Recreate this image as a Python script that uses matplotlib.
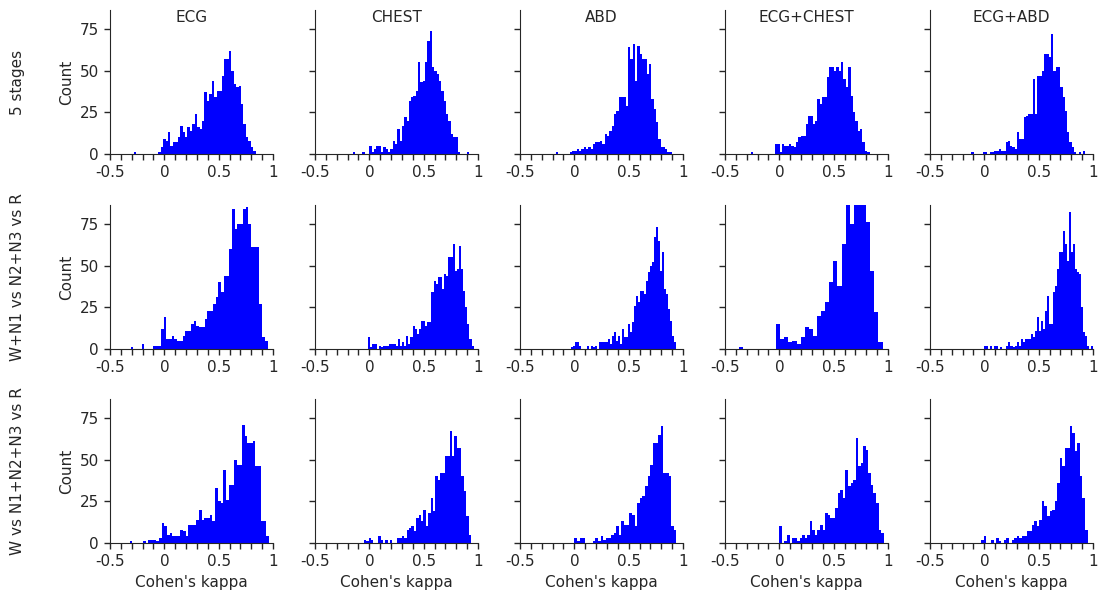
"""Histograms of per-recording Cohen's kappa for each signal set and staging task."""

import numpy as np
import matplotlib
matplotlib.use('Agg')
import matplotlib.pyplot as plt
from matplotlib.ticker import MultipleLocator

SIGNALS = ['ECG', 'CHEST', 'ABD', 'ECG+CHEST', 'ECG+ABD']
TASKS = ['5 stages', 'W+N1 vs N2+N3 vs R', 'W vs N1+N2+N3 vs R']

# bin counts, with the (min, max) range of each
STAGE5_ECG = [1, 0, 0, 0, 0, 0, 0, 0, 0, 0, 1, 4, 9, 8, 13, 5, 7, 7, 10, 17,
              13, 10, 16, 14, 18, 24, 16, 15, 20, 37, 32, 36, 44, 34, 38, 38,
              47, 57, 57, 62, 50, 42, 40, 41, 30, 18, 10, 8, 4, 2]
STAGE5_CHEST = [1, 0, 0, 0, 1, 0, 0, 5, 1, 3, 5, 5, 1, 4, 3, 1, 3, 8, 6, 15,
                8, 17, 22, 20, 32, 34, 35, 38, 55, 43, 44, 55, 68, 74, 52, 50,
                48, 44, 38, 32, 24, 20, 12, 10, 10, 1, 0, 0, 0, 1]
STAGE5_ABD = [1, 0, 0, 0, 0, 0, 1, 2, 2, 3, 2, 3, 4, 3, 4, 3, 6, 7, 7, 8,
              6, 12, 11, 14, 17, 24, 26, 34, 34, 34, 29, 64, 57, 66, 44, 65,
              60, 57, 57, 48, 54, 33, 27, 19, 9, 4, 4, 3, 1, 1]
STAGE5_ECG_CHEST = [1, 0, 0, 0, 0, 0, 0, 0, 0, 0, 6, 6, 1, 6, 5, 5, 6, 5, 4, 7,
                    10, 11, 11, 18, 23, 23, 18, 20, 33, 30, 34, 34, 46, 52, 52,
                    50, 52, 50, 55, 45, 40, 52, 35, 25, 20, 14, 15, 7, 2, 1]
STAGE5_ECG_ABD = [1, 0, 0, 0, 0, 1, 1, 0, 1, 1, 2, 2, 3, 2, 2, 7, 8, 5, 4, 3,
                  13, 9, 9, 22, 23, 24, 24, 45, 24, 47, 47, 50, 60, 60, 58, 72,
                  50, 52, 52, 40, 34, 26, 13, 7, 4, 1, 0, 1, 0, 2]
STAGE5_RANGES = [(-0.28, 0.84), (-0.15, 0.92), (-0.17, 0.90),
                 (-0.26, 0.83), (-0.12, 0.93)]

DEEP_ECG = [1, 0, 0, 0, 3, 0, 0, 0, 2, 2, 2, 12, 19, 6, 6, 8, 6, 5, 5, 8,
            11, 11, 15, 17, 14, 13, 13, 18, 23, 23, 27, 31, 40, 34, 44, 44,
            60, 84, 72, 75, 75, 84, 85, 75, 61, 61, 61, 27, 7, 5]
DEEP_CHEST = [7, 1, 3, 3, 0, 2, 1, 2, 2, 2, 3, 3, 3, 2, 6, 2, 4, 2, 8, 3,
              7, 14, 12, 9, 12, 17, 17, 14, 16, 16, 34, 41, 39, 43, 43, 36,
              45, 44, 55, 55, 63, 47, 48, 62, 48, 35, 25, 15, 6, 2]
DEEP_ABD = [1, 2, 4, 4, 2, 0, 0, 0, 2, 0, 2, 1, 2, 0, 4, 4, 4, 4, 6, 3,
            8, 10, 5, 8, 3, 12, 7, 7, 15, 10, 16, 26, 32, 28, 35, 35, 33, 41,
            46, 50, 52, 67, 73, 65, 47, 58, 36, 33, 24, 17, 8, 4]
DEEP_ECG_CHEST = [1, 0, 0, 0, 0, 0, 0, 0, 0, 15, 6, 7, 4, 5, 3, 7, 13, 12, 8,
                  20, 23, 28, 40, 53, 38, 63, 88, 75, 88, 88, 88, 76, 47, 22, 4]
DEEP_ECG_ABD = [2, 2, 0, 2, 0, 2, 2, 0, 1, 0, 0, 2, 4, 2, 1, 2, 4, 2, 6, 4,
                6, 6, 6, 9, 7, 11, 19, 11, 17, 12, 23, 32, 15, 15, 34, 38, 48,
                58, 58, 71, 63, 53, 82, 58, 63, 48, 46, 45, 25, 10, 8, 2, 0, 2]
DEEP_RANGES = [(-0.31, 0.95), (-0.01, 0.96), (-0.03, 0.94),
               (-0.37, 0.95), (0.0, 1.0)]

WAKE_ECG = [1, 0, 0, 0, 0, 1, 0, 2, 2, 2, 1, 3, 12, 10, 5, 6, 4, 4, 4, 8,
            7, 4, 11, 11, 11, 14, 20, 14, 15, 15, 17, 13, 33, 25, 24, 44, 26,
            35, 35, 50, 47, 47, 71, 64, 60, 60, 61, 46, 46, 13, 13, 4]
WAKE_CHEST = [2, 1, 3, 2, 0, 0, 4, 2, 0, 2, 0, 2, 0, 0, 3, 3, 4, 3, 8, 9,
              10, 7, 15, 17, 13, 20, 10, 18, 27, 19, 40, 38, 42, 42, 52, 52,
              67, 52, 64, 57, 57, 40, 31, 16, 5]
WAKE_ABD = [3, 1, 3, 3, 0, 0, 0, 1, 3, 1, 4, 2, 3, 3, 5, 6, 10, 5, 13, 11,
            11, 18, 17, 10, 24, 27, 28, 34, 40, 47, 60, 60, 65, 70, 42, 42,
            40, 10, 8]
WAKE_ECG_CHEST = [10, 0, 1, 5, 0, 3, 3, 1, 3, 5, 3, 5, 13, 8, 5, 8, 11, 8, 18,
                  17, 15, 15, 21, 30, 32, 27, 44, 34, 36, 38, 63, 46, 48, 58,
                  56, 42, 35, 30, 24, 8, 6]
WAKE_ECG_ABD = [2, 4, 0, 0, 2, 0, 3, 1, 0, 2, 3, 0, 2, 3, 4, 3, 4, 4, 7, 7,
                11, 13, 10, 14, 25, 22, 16, 19, 20, 25, 36, 51, 46, 57, 57, 70,
                66, 55, 60, 40, 27, 8]
WAKE_RANGES = [(-0.32, 0.96), (-0.05, 0.935), (0.0, 0.94),
               (0.0, 0.96), (-0.03, 0.95)]

COUNTS = [
    [STAGE5_ECG, STAGE5_CHEST, STAGE5_ABD, STAGE5_ECG_CHEST, STAGE5_ECG_ABD],
    [DEEP_ECG, DEEP_CHEST, DEEP_ABD, DEEP_ECG_CHEST, DEEP_ECG_ABD],
    [WAKE_ECG, WAKE_CHEST, WAKE_ABD, WAKE_ECG_CHEST, WAKE_ECG_ABD],
]
RANGES = [STAGE5_RANGES, DEEP_RANGES, WAKE_RANGES]

DARK = '#262626'
plt.rcParams.update({
    'font.size': 11,
    'text.color': DARK,
    'axes.labelcolor': DARK,
    'axes.edgecolor': DARK,
    'xtick.color': DARK,
    'ytick.color': DARK,
})


def draw_panel(ax, counts, lo, hi):
    """Draw one histogram from pre-binned counts"""
    counts = np.asarray(counts, dtype=float)
    edges = np.linspace(lo, hi, len(counts) + 1)
    ax.hist(edges[:-1], edges, weights=counts, color='blue')
    ax.set_xlim(-0.5, 1.0)
    ax.set_ylim(0, 86.4)
    ax.set_xticks([-0.5, 0, 0.5, 1])
    ax.set_xticklabels(['-0.5', '0', '0.5', '1'])
    ax.xaxis.set_minor_locator(MultipleLocator(0.1))
    ax.set_yticks([0, 25, 50, 75])
    ax.tick_params(which='both', direction='out', length=4.5, width=1)
    for side in ('top', 'right'):
        ax.spines[side].set_visible(False)


def main():
    fig = plt.figure(figsize=(11.09, 5.96), dpi=100)
    width, height = 163 / 1109, 144 / 596
    lefts = [(110 + 205 * j) / 1109 for j in range(5)]
    bottoms = [1 - 154 / 596, 1 - 349 / 596, 1 - 543 / 596]
    for i, task in enumerate(TASKS):
        for j, signal in enumerate(SIGNALS):
            ax = fig.add_axes([lefts[j], bottoms[i], width, height])
            lo, hi = RANGES[i][j]
            draw_panel(ax, COUNTS[i][j], lo, hi)
            if j == 0:
                ax.set_ylabel('Count')
            else:
                ax.set_yticklabels([])
            if i == 0:
                ax.text(0.5, 0.945, signal, ha='center', va='center',
                        transform=ax.transAxes)
            if i == 2:
                ax.set_xlabel("Cohen's kappa")
        fig.text(0.016, bottoms[i] + height / 2, task, rotation=90,
                 ha='center', va='center')
    fig.savefig('out.png', dpi=100)


if __name__ == '__main__':
    main()
